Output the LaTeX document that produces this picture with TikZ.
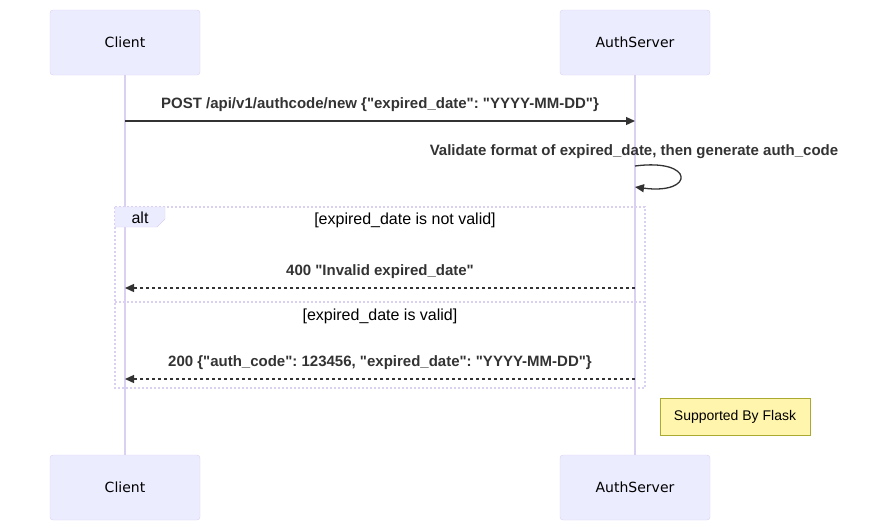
\documentclass[tikz,border=0pt]{standalone}
\usepackage{fontspec}
\setmainfont{Liberation Sans}[Ligatures=TeXOff]
\newfontfamily\actorfont{DejaVu Sans}
\usetikzlibrary{arrows.meta}
\frenchspacing

\definecolor{actorfill}{HTML}{ECECFF}
\definecolor{actorline}{HTML}{D9D0F2}
\definecolor{msgcol}{HTML}{333333}
\definecolor{notefill}{HTML}{FFF5AD}
\definecolor{noteline}{HTML}{AAAA33}
\newcommand{\dq}{\char34{}}

\begin{document}
\begin{tikzpicture}[x=1pt,y=-1pt,
    actor/.style={draw=actorline, fill=actorfill, rounded corners=3pt,
        minimum width=150pt, minimum height=65pt, font=\actorfont\fontsize{14}{16}\selectfont},
    lifeline/.style={draw=actorline, line width=1.3pt},
    msg/.style={draw=msgcol, line width=1.3pt, -{Triangle[length=9pt,width=8pt]}},
    reply/.style={msg, dash pattern=on 3pt off 3pt},
    msgtext/.style={font=\bfseries\fontsize{15}{17}\selectfont, text=msgcol},
    guard/.style={font=\fontsize{16}{18}\selectfont, text=black},
    altline/.style={draw=actorline, line width=1.5pt, dash pattern=on 2pt off 2pt},
    note/.style={draw=noteline, fill=notefill, minimum width=150pt, minimum height=37pt,
        font=\fontsize{14}{16}\selectfont}]
    \useasboundingbox (0,0) rectangle (889,531);

    % participants
    \node[actor] (client) at (125,42.5) {Client};
    \node[actor] (server) at (635,42.5) {AuthServer};
    \node[actor] (clientb) at (125,487.5) {Client};
    \node[actor] (serverb) at (635,487.5) {AuthServer};
    \draw[lifeline] (client) -- (clientb);
    \draw[lifeline] (server) -- (serverb);

    % request
    \coordinate (c1) at (125,121);
    \coordinate (s1) at (635,121);
    \draw[msg] (c1) -- (s1);
    \node[msgtext] (req) at (380,105) {POST /api/v1/authcode/new \{\dq expired\_date\dq: \dq YYYY-MM-DD\dq\}};

    % self call
    \node[msgtext] (valid) at (634,152) {Validate format of expired\_date, then generate auth\_code};
    \coordinate (s2) at (635,166);
    \coordinate (s3) at (635,187);
    \draw[msg] (s2) .. controls (695,158) and (695,195) .. (s3);

    % alt frame
    \coordinate (altnw) at (115,207);
    \coordinate (altse) at (645,388);
    \coordinate (altw) at (115,302);
    \coordinate (alte) at (645,302);
    \draw[altline] (altnw) rectangle (altse);
    \draw[altline] (altw) -- (alte);
    \draw[draw=actorline, fill=actorfill] (115,207) -- (165,207) -- (165,219) -- (157,227) -- (115,227) -- cycle;
    \node[guard] (alt) at (140,218) {alt};
    \node[guard] (notvalid) at (405,220) {[expired\_date is not valid]};
    \node[guard] (isvalid) at (380,316) {[expired\_date is valid]};

    % replies
    \coordinate (s4) at (635,288);
    \coordinate (c4) at (125,288);
    \draw[reply] (s4) -- (c4);
    \node[msgtext] (bad) at (380,272) {400 \dq Invalid expired\_date\dq};
    \coordinate (s5) at (635,379);
    \coordinate (c5) at (125,379);
    \draw[reply] (s5) -- (c5);
    \node[msgtext] (ok) at (380,363) {200 \{\dq auth\_code\dq: 123456, \dq expired\_date\dq: \dq YYYY-MM-DD\dq\}};

    % note
    \node[note] (flask) at (735,417) {Supported By Flask};
\end{tikzpicture}
\end{document}
